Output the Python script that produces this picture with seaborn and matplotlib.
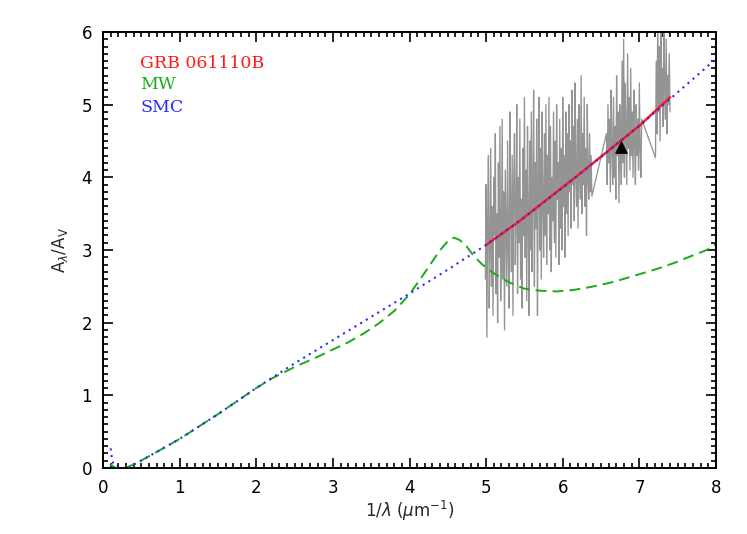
import numpy as np
import pandas as pd
import matplotlib
matplotlib.use("Agg")
import matplotlib.pyplot as plt
from matplotlib.ticker import MultipleLocator
import seaborn as sns

# ---------------- data ----------------
smc_x = [0.10, 0.12, 0.15, 0.22, 0.30, 0.46, 0.70, 1.00, 1.50, 2.00, 2.50, 3.00, 3.50,
         4.00, 4.50, 5.00, 5.50, 6.00, 6.50, 7.00, 7.50, 8.00]
smc_y = [0.27, 0.10, 0.02, -0.02, -0.01, 0.08, 0.22, 0.40, 0.74, 1.10, 1.44, 1.76, 2.08,
         2.40, 2.73, 3.07, 3.45, 3.86, 4.28, 4.71, 5.17, 5.63]

mw_x = [0.09, 0.16, 0.25, 0.30, 0.46, 0.70, 1.00, 1.50, 2.00, 2.20, 2.50, 2.80, 3.00, 3.20,
        3.40, 3.60, 3.80, 4.00, 4.20, 4.40, 4.50, 4.58, 4.65, 4.73, 4.83, 4.94, 5.10, 5.27,
        5.49, 5.70, 5.92, 6.14, 6.36, 6.58, 6.79, 7.01, 7.23, 7.45, 7.66, 7.88, 8.00]
mw_y = [0.06, 0.00, -0.01, 0.00, 0.08, 0.22, 0.40, 0.74, 1.10, 1.23, 1.39, 1.53, 1.63, 1.73,
        1.85, 1.99, 2.16, 2.39, 2.69, 3.00, 3.12, 3.17, 3.14, 3.07, 2.93, 2.81, 2.68, 2.57,
        2.47, 2.44, 2.43, 2.45, 2.49, 2.54, 2.60, 2.67, 2.74, 2.82, 2.91, 3.00, 3.08]

grb_x = [5.00, 5.40, 5.80, 6.20, 6.60, 7.00, 7.40]
grb_y = [3.07, 3.37, 3.70, 4.03, 4.37, 4.71, 5.10]

# observed spectrum (three chunks)
spec1_range = (4.99, 6.38)
spec1_y = [2.6, 3.9, 1.8, 3.4, 4.3, 2.2, 3.0, 4.4, 2.5, 3.6,
           2.1, 4.0, 3.2, 4.6, 2.4, 3.5, 2.0, 4.2, 2.9, 4.7,
           2.3, 3.1, 4.8, 2.6, 3.8, 1.9, 4.1, 3.3, 2.5, 4.5,
           3.0, 2.2, 4.9, 3.6, 2.7, 4.3, 2.1, 3.9, 4.6, 2.8,
           3.4, 5.0, 2.4, 4.0, 3.1, 4.8, 2.6, 3.7, 2.2, 4.4,
           3.2, 5.1, 2.9, 4.1, 2.3, 4.7, 3.5, 2.1, 4.5, 3.0,
           4.9, 2.7, 3.8, 5.2, 2.5, 4.2, 3.3, 4.8, 2.1, 3.9,
           5.1, 3.0, 4.4, 2.6, 4.9, 3.6, 2.9, 4.6, 3.2, 5.0,
           2.8, 4.3, 3.5, 5.1, 3.0, 4.7, 2.7, 4.0, 3.4, 4.9,
           3.1, 4.5, 2.9, 5.0, 3.7, 4.2, 2.8, 4.8, 3.3, 4.4,
           3.0, 5.1, 3.6, 4.3, 2.9, 4.9, 3.5, 4.6, 3.2, 5.0,
           3.8, 4.5, 3.3, 5.2, 3.9, 4.7, 3.4, 5.3, 4.0, 3.6,
           4.8, 3.3, 5.0, 4.1, 3.7, 5.4, 3.5, 4.6, 3.9, 5.1,
           3.6, 4.4, 3.2, 5.0, 4.0, 3.7, 4.6, 3.8, 4.3, 3.74]
spec2_range = (6.57, 7.03)
spec2_y = [4.6, 3.9, 5.0, 4.2, 4.8, 3.8, 5.2, 4.4, 3.9, 5.1,
           4.0, 4.7, 3.7, 5.4, 4.3, 4.9, 3.65, 5.0, 4.5, 3.9,
           5.6, 4.2, 5.9, 4.0, 5.3, 4.6, 3.9, 5.7, 4.4, 5.1,
           4.1, 5.5, 4.3, 4.9, 4.0, 5.2, 4.5, 3.9, 5.0, 4.3,
           4.8, 4.1, 5.3, 4.4, 4.0, 4.8]
spec3_range = (7.21, 7.40)
spec3_y = [4.27, 5.6, 4.6, 6.2, 4.9, 5.8, 4.5, 6.1, 5.0, 5.5,
           4.7, 6.3, 5.2, 4.8, 5.9, 4.6, 5.4, 5.0, 5.7, 4.9]

phot_x = [6.76]
phot_y = [4.42]

legend_labels = ["GRB 061110B", "MW", "SMC"]
col_red, col_green, col_blue = "#ff1a1a", "#1aaa1a", "#2a2aff"

# ---------------- figure ----------------
sns.set_style("ticks")
plt.rcParams["font.family"] = ["DejaVu Sans"]
fig = plt.figure(figsize=(7.47, 5.34), dpi=100)
ax = fig.add_axes([103 / 747, 66 / 534, 613 / 747, 436 / 534])

spec_x = np.concatenate([np.linspace(*spec1_range, len(spec1_y)),
                         np.linspace(*spec2_range, len(spec2_y)),
                         np.linspace(*spec3_range, len(spec3_y))])
spec_y = np.concatenate([spec1_y, spec2_y, spec3_y])
spec = pd.DataFrame({"x": spec_x, "y": spec_y})

sns.lineplot(data=spec, x="x", y="y", ax=ax, color="0.58", lw=0.95,
             sort=False, estimator=None, zorder=1)
sns.lineplot(x=mw_x, y=mw_y, ax=ax, color=col_green, lw=1.4,
             linestyle=(0, (5.6, 3.1)), sort=False, estimator=None, zorder=2)
sns.lineplot(x=grb_x, y=grb_y, ax=ax, color=col_red, lw=1.8,
             sort=False, estimator=None, zorder=3)
sns.lineplot(x=smc_x, y=smc_y, ax=ax, color=col_blue, lw=1.5,
             linestyle=(0, (1, 2.2)), sort=False, estimator=None, zorder=4)
sns.scatterplot(x=phot_x, y=phot_y, ax=ax, marker="^", s=70, color="black",
                edgecolor="black", zorder=5)

ax.set_xlim(0, 8)
ax.set_ylim(0, 6)
ax.xaxis.set_major_locator(MultipleLocator(1))
ax.xaxis.set_minor_locator(MultipleLocator(0.1))
ax.yaxis.set_major_locator(MultipleLocator(1))
ax.yaxis.set_minor_locator(MultipleLocator(0.1))
ax.tick_params(which="both", direction="in", top=True, right=True,
               color="black", width=1.2, labelsize=12, labelcolor="black")
ax.tick_params(which="major", length=7.5, pad=8)
ax.tick_params(which="minor", length=3.8)
for s in ax.spines.values():
    s.set_linewidth(1.4)
    s.set_color("black")

ax.set_xlabel(r"1/$\lambda$ ($\mu$m$^{-1}$)", fontsize=12, labelpad=1)
ax.set_ylabel(r"A$_\lambda$/A$_\mathrm{V}$", fontsize=12, labelpad=8)

for i, (lab, c) in enumerate(zip(legend_labels, [col_red, col_green, col_blue])):
    ax.text(140 / 747, (534 - 63 - 22 * i) / 534, lab, color=c, fontsize=12.5,
            family="DejaVu Serif", va="center", ha="left",
            transform=fig.transFigure)

fig.savefig("out.png", dpi=100)
